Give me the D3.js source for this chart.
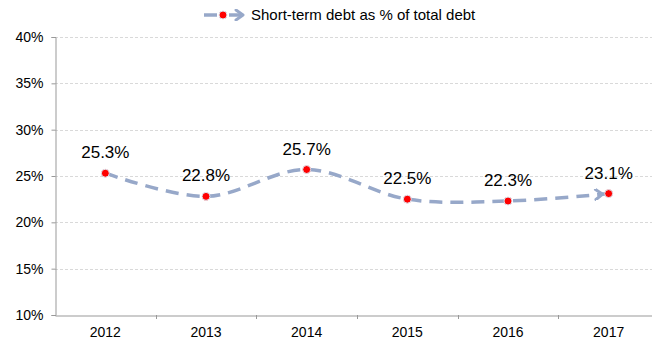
<!DOCTYPE html>
<html>
<head>
<meta charset="utf-8">
<script src="https://cdn.jsdelivr.net/npm/d3@7"></script>
<style>
    body { margin: 0; background: #fff; }
    text { font-family: "Liberation Sans", Arial, sans-serif; fill: #000; }
</style>
</head>
<body>
<div id="chart"></div>
<script>
// chart data
const years = ["2012", "2013", "2014", "2015", "2016", "2017"];
const shortTermShare = [25.3, 22.8, 25.7, 22.5, 22.3, 23.1];
const yTicks = [10, 15, 20, 25, 30, 35, 40];
const seriesName = "Short-term debt as % of total debt";

const width = 652, height = 345;
const margin = {top: 37, left: 55, bottom: 30};
const lineColor = "#97a8c9";

const svg = d3.select("#chart").append("svg")
    .attr("width", width)
    .attr("height", height);

// x & y scales (plot area runs slightly past the right edge, like the original crop)
const x = d3.scaleBand()
    .domain(years)
    .range([margin.left, 659]);

const y = d3.scaleLinear()
    .domain([10, 40])
    .range([height - margin.bottom, margin.top]);

// gridlines
svg.selectAll(".grid")
    .data(yTicks.filter(d => d > 10))
    .enter()
    .append("line")
    .attr("class", "grid")
    .attr("x1", margin.left)
    .attr("x2", width)
    .attr("y1", d => Math.round(y(d)) + 0.5)
    .attr("y2", d => Math.round(y(d)) + 0.5)
    .attr("stroke", "#d9d9d9")
    .attr("stroke-dasharray", "3,2");

// y axis
const yAxis = svg.append("g")
    .attr("transform", `translate(${margin.left + 0.5},0)`)
    .call(d3.axisLeft(y).tickValues(yTicks).tickSize(4).tickFormat(d => d + "%"));

// x axis
const xAxis = svg.append("g")
    .attr("transform", `translate(0,${Math.round(y(10)) + 0.5})`)
    .call(d3.axisBottom(x).tickSize(0));

// x ticks sit on band boundaries
svg.selectAll(".xTick")
    .data(years.slice(1))
    .enter()
    .append("line")
    .attr("class", "xTick")
    .attr("x1", d => Math.round(x(d)) + 0.5)
    .attr("x2", d => Math.round(x(d)) + 0.5)
    .attr("y1", y(10))
    .attr("y2", y(10) + 4)
    .attr("stroke", "#999");

[yAxis, xAxis].forEach(ax => {
    ax.select(".domain").attr("stroke", "#999");
    ax.selectAll(".tick line").attr("stroke", "#999");
    ax.selectAll(".tick text")
        .attr("font-size", 14)
        .attr("font-family", "'Liberation Sans', Arial, sans-serif")
        .attr("fill", "#000");
});
yAxis.selectAll(".tick text").attr("x", -12);
xAxis.selectAll(".tick text").attr("dy", "1.35em");

// arrow marker
const defs = svg.append("defs");
defs.append("marker")
    .attr("id", "arrow")
    .attr("viewBox", "0 0 12 12")
    .attr("refX", 9)
    .attr("refY", 6)
    .attr("markerWidth", 12)
    .attr("markerHeight", 12)
    .attr("markerUnits", "userSpaceOnUse")
    .attr("orient", "auto")
    .append("path")
    .attr("d", "M2,1 L9,6 L2,11")
    .attr("fill", "none")
    .attr("stroke", lineColor)
    .attr("stroke-width", 3)
    .attr("stroke-linecap", "round")
    .attr("stroke-linejoin", "round");

const points = years.map((yr, i) => ({year: yr, value: shortTermShare[i]}));

// smoothed line
const line = d3.line()
    .x(d => x(d.year) + x.bandwidth() / 2)
    .y(d => y(d.value))
    .curve(d3.curveCatmullRom.alpha(0.5));

const path = svg.append("path")
    .datum(points)
    .attr("d", line)
    .attr("fill", "none")
    .attr("stroke", lineColor)
    .attr("stroke-width", 3.5)
    .attr("stroke-dasharray", "13,8");

// arrow head just before the last point
const total = path.node().getTotalLength();
const endPt = path.node().getPointAtLength(total - 6);

svg.append("line")
    .attr("x1", endPt.x - 12)
    .attr("y1", endPt.y + 0.6)
    .attr("x2", endPt.x)
    .attr("y2", endPt.y)
    .attr("stroke", "none")
    .attr("marker-end", "url(#arrow)");

// point markers
svg.selectAll(".dot")
    .data(points)
    .enter()
    .append("circle")
    .attr("class", "dot")
    .attr("cx", d => x(d.year) + x.bandwidth() / 2)
    .attr("cy", d => y(d.value))
    .attr("r", 4)
    .attr("fill", "#ff0000")
    .attr("stroke", "#dfe4ee")
    .attr("stroke-width", 1);

// data labels
svg.selectAll(".valueLabel")
    .data(points)
    .enter()
    .append("text")
    .attr("class", "valueLabel")
    .attr("x", d => x(d.year) + x.bandwidth() / 2)
    .attr("y", d => y(d.value) - 15)
    .attr("text-anchor", "middle")
    .attr("font-size", 17)
    .text(d => d.value.toFixed(1) + "%");

// legend
const legend = svg.append("g").attr("transform", "translate(203,15)");
legend.append("line")
    .attr("x1", 1).attr("x2", 14)
    .attr("y1", 0).attr("y2", 0)
    .attr("stroke", lineColor)
    .attr("stroke-width", 3.5);
legend.append("line")
    .attr("x1", 26).attr("x2", 40)
    .attr("y1", 0).attr("y2", 0)
    .attr("stroke", lineColor)
    .attr("stroke-width", 3.5)
    .attr("marker-end", "url(#arrow)");
legend.append("circle")
    .attr("cx", 20).attr("cy", 0).attr("r", 4)
    .attr("fill", "#ff0000")
    .attr("stroke", "#dfe4ee");
legend.append("text")
    .attr("x", 48)
    .attr("y", 5)
    .attr("font-size", 15)
    .text(seriesName);
</script>
</body>
</html>
